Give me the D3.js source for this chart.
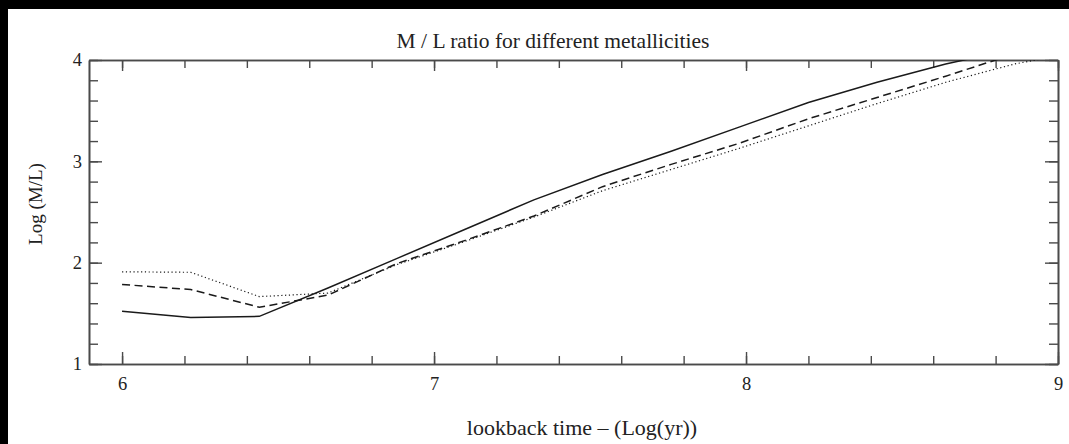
<!DOCTYPE html>
<html>
<head>
<meta charset="utf-8">
<script src="https://cdn.jsdelivr.net/npm/d3@7"></script>
<style>
  body { margin: 0; background: #000; }
  svg { display: block; }
  text { font-family: "Liberation Serif", "DejaVu Serif", serif; fill: #222; }
  .axis path { stroke: #4a4a4a; stroke-width: 1.6; }
  .axis line { stroke: #4a4a4a; stroke-width: 1.4; }
  .axis text { font-size: 18.5px; fill: #222; }
</style>
</head>
<body>
<div id="chart"></div>
<script>
const svgWidth = 1069;
const svgHeight = 444;

const margin = { top: 60, right: 11, bottom: 80, left: 89 };
const width = svgWidth - margin.left - margin.right;
const height = svgHeight - margin.top - margin.bottom;

// log age grid and M/L for the three metallicities
const logAge = [6.0, 6.22, 6.44, 6.66, 6.88, 7.1, 7.32, 7.54, 7.76, 7.98, 8.2, 8.42, 8.64, 8.86, 9.08];
const solidML = [1.52, 1.46, 1.47, 1.75, 2.04, 2.33, 2.62, 2.87, 3.10, 3.34, 3.58, 3.78, 3.96, 4.11, 4.30];
const dashedML = [1.785, 1.735, 1.56, 1.68, 1.99, 2.22, 2.46, 2.75, 2.97, 3.18, 3.42, 3.63, 3.84, 4.06, 4.25];
const dottedML = [1.91, 1.905, 1.665, 1.70, 1.98, 2.21, 2.45, 2.71, 2.92, 3.13, 3.35, 3.57, 3.78, 3.96, 4.09];

const xMajor = [6, 7, 8, 9];
const xMinor = d3.range(6, 9.001, 0.2);
const yMajor = [1, 2, 3, 4];
const yMinor = d3.range(1, 4.001, 0.2);

const svg = d3.select("#chart")
  .append("svg")
  .attr("width", svgWidth)
  .attr("height", svgHeight);

// white paper on a black page
svg.append("rect")
  .attr("x", 8).attr("y", 9)
  .attr("width", svgWidth - 8).attr("height", svgHeight - 9)
  .attr("fill", "#fff");

const chartGroup = svg.append("g")
  .attr("transform", `translate(${margin.left}, ${margin.top})`);

const x = d3.scaleLinear().domain([5.894, 9]).range([0, width]);
const y = d3.scaleLinear().domain([1, 4]).range([height, 0]);

// minor ticks on all four sides
chartGroup.append("g").attr("class", "axis")
  .attr("transform", `translate(0, ${height})`)
  .call(d3.axisBottom(x).tickValues(xMinor).tickSize(-8).tickSizeOuter(0).tickFormat(""));
chartGroup.append("g").attr("class", "axis")
  .call(d3.axisTop(x).tickValues(xMinor).tickSize(-8).tickSizeOuter(0).tickFormat(""));
chartGroup.append("g").attr("class", "axis")
  .call(d3.axisLeft(y).tickValues(yMinor).tickSize(-9).tickSizeOuter(0).tickFormat(""));
chartGroup.append("g").attr("class", "axis")
  .attr("transform", `translate(${width}, 0)`)
  .call(d3.axisRight(y).tickValues(yMinor).tickSize(-9).tickSizeOuter(0).tickFormat(""));

// major ticks
chartGroup.append("g").attr("class", "axis")
  .attr("transform", `translate(0, ${height})`)
  .call(d3.axisBottom(x).tickValues(xMajor).tickSize(-12).tickSizeOuter(0).tickPadding(13).tickFormat(d3.format("d")));
chartGroup.append("g").attr("class", "axis")
  .call(d3.axisTop(x).tickValues(xMajor).tickSize(-11).tickSizeOuter(0).tickFormat(""));
chartGroup.append("g").attr("class", "axis")
  .call(d3.axisLeft(y).tickValues(yMajor).tickSize(-13).tickSizeOuter(0).tickPadding(7).tickFormat(d3.format("d")));
chartGroup.append("g").attr("class", "axis")
  .attr("transform", `translate(${width}, 0)`)
  .call(d3.axisRight(y).tickValues(yMajor).tickSize(-13).tickSizeOuter(0).tickFormat(""));

// clip curves at the frame
svg.append("defs").append("clipPath").attr("id", "plotClip")
  .append("rect").attr("width", width).attr("height", height);

const line = d3.line()
  .x((d, i) => x(logAge[i]))
  .y(d => y(d));

const series = [
  { values: dottedML, dash: "1.2,2.6", w: 1.2 },
  { values: dashedML, dash: "8,4.5", w: 1.5 },
  { values: solidML, dash: null, w: 1.5 }
];

const curves = chartGroup.append("g").attr("clip-path", "url(#plotClip)");
series.forEach(s => {
  curves.append("path")
    .datum(s.values)
    .attr("fill", "none")
    .attr("stroke", "#1a1a1a")
    .attr("stroke-width", s.w)
    .attr("stroke-dasharray", s.dash)
    .attr("d", line);
});

// titles
svg.append("text")
  .attr("x", 553)
  .attr("y", 48)
  .attr("text-anchor", "middle")
  .style("font-size", "21.5px")
  .text("M / L ratio for different metallicities");

svg.append("text")
  .attr("x", 582)
  .attr("y", 435)
  .attr("text-anchor", "middle")
  .style("font-size", "22px")
  .text("lookback time \u2013 (Log(yr))");

svg.append("text")
  .attr("transform", "translate(42, 204) rotate(-90)")
  .attr("text-anchor", "middle")
  .style("font-size", "19px")
  .text("Log (M/L)");
</script>
</body>
</html>
